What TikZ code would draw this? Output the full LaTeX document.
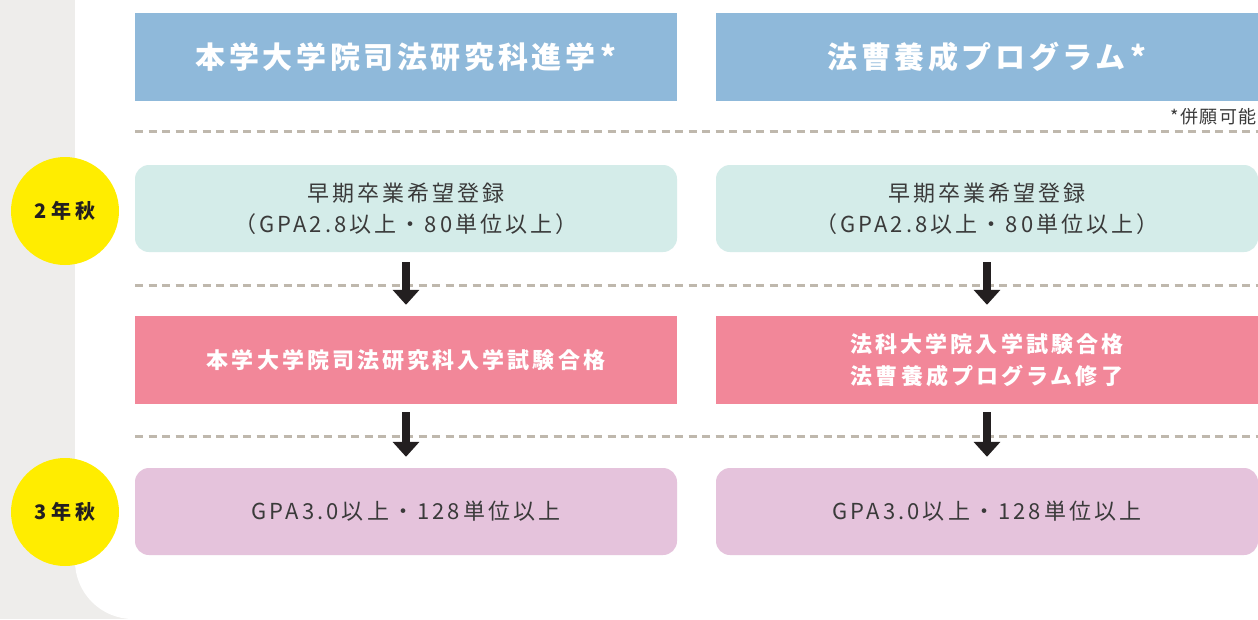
\documentclass[tikz,border=0pt]{standalone}
\usepackage{fontspec}
\setmainfont{Noto Sans CJK JP}
\newfontfamily\jphead{Noto Sans CJK JP}[LetterSpace=12]
\newfontfamily\jpsp{Noto Sans CJK JP}[LetterSpace=14]
\newfontfamily\jpcirc{Noto Sans CJK JP}[LetterSpace=22]
\newfontfamily\jpnote{Noto Sans CJK JP}[LetterSpace=8]
\usetikzlibrary{arrows.meta,calc}
\definecolor{bggray}{HTML}{EEEDEB}
\definecolor{hdrblue}{HTML}{8FB9DA}
\definecolor{boxcyan}{HTML}{D4ECE9}
\definecolor{boxpink}{HTML}{F28799}
\definecolor{boxlav}{HTML}{E5C3DC}
\definecolor{circyel}{HTML}{FFED00}
\definecolor{dashgray}{HTML}{BFB8AD}
\definecolor{arrowblk}{HTML}{231F20}
\definecolor{txtdark}{HTML}{3A3A3A}
\begin{document}
\begin{tikzpicture}[x=1pt,y=-1pt,
  header/.style={fill=hdrblue, minimum width=542pt, minimum height=88pt, inner sep=0pt,
    text=white, font=\fontsize{30}{34}\selectfont\jphead\bfseries},
  condbox/.style={fill=boxcyan, rounded corners=14pt, minimum width=542pt, minimum height=87pt,
    inner sep=0pt, text=txtdark, align=center, font=\fontsize{22}{31}\selectfont\jpsp},
  passbox/.style={fill=boxpink, minimum width=542pt, minimum height=88pt, inner sep=0pt,
    text=white, align=center, font=\fontsize{22}{32}\selectfont\jpsp\bfseries},
  gradbox/.style={fill=boxlav, rounded corners=14pt, minimum width=542pt, minimum height=87pt,
    inner sep=0pt, text=txtdark, align=center, font=\fontsize{22}{31}\selectfont\jpsp},
  yearcirc/.style={circle, fill=circyel, minimum size=108pt, inner sep=0pt, text=arrowblk,
    font=\fontsize{20}{22}\selectfont\jpcirc\bfseries},
  sepline/.style={dashgray, line width=3pt, dash pattern=on 8pt off 5.5pt},
  downarrow/.style={arrowblk, line width=8.5pt, line cap=butt,
    -{Triangle[width=26pt,length=15pt]}}
]
\useasboundingbox (0,0) rectangle (1258,619);
\clip (0,0) rectangle (1258,619);
\fill[bggray] (0,0) rectangle (1258,619);
\fill[white, rounded corners=58pt] (75,-200) -- (75,619) -- (1400,619) -- (1400,-200) -- cycle;

% headers
\node[header] (h1) at (406,57) {本学大学院司法研究科進学\hspace{5pt}*};
\node[header] (h2) at (987,57) {法曹養成プログラム\hspace{5pt}*};
\node[anchor=east, inner sep=0pt, text=txtdark, font=\fontsize{18}{20}\selectfont\jpnote] (note) at (1257,117) {*\hspace{2pt}併願可能};

% dashed separators
\coordinate (d1s) at (135,131); \coordinate (d1e) at (1258,131);
\coordinate (d2s) at (135,285); \coordinate (d2e) at (1258,285);
\coordinate (d3s) at (135,436); \coordinate (d3e) at (1258,436);
\draw[sepline] (d1s) -- (d1e);
\draw[sepline] (d2s) -- (d2e);
\draw[sepline] (d3s) -- (d3e);

% row 1
\node[condbox] (a1) at (406,208.5) {早期卒業希望登録\\（GPA2.8以上・80単位以上）};
\node[condbox] (b1) at (987,208.5) {早期卒業希望登録\\（GPA2.8以上・80単位以上）};
% row 2
\node[passbox] (a2) at (406,360) {本学大学院司法研究科入学試験合格};
\node[passbox] (b2) at (987,360) {法科大学院入学試験合格\\法曹養成プログラム修了};
% row 3
\node[gradbox] (a3) at (406,511.5) {GPA3.0以上・128単位以上};
\node[gradbox] (b3) at (987,511.5) {GPA3.0以上・128単位以上};

% arrows
\draw[downarrow] ($(a1.south)+(0,10)$) -- ($(a2.north)+(0,-11)$);
\draw[downarrow] ($(b1.south)+(0,10)$) -- ($(b2.north)+(0,-11)$);
\draw[downarrow] ($(a2.south)+(0,8)$) -- ($(a3.north)+(0,-11)$);
\draw[downarrow] ($(b2.south)+(0,8)$) -- ($(b3.north)+(0,-11)$);

% year circles
\node[yearcirc] (y2) at (65,211) {2年秋};
\node[yearcirc] (y3) at (65,512) {3年秋};
\end{tikzpicture}
\end{document}
